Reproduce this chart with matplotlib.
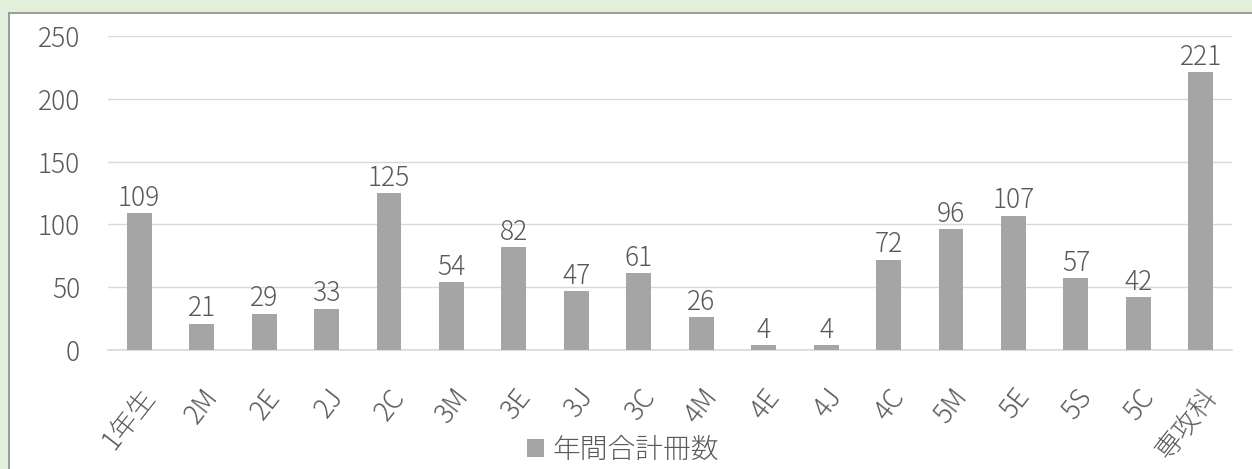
import matplotlib
matplotlib.use("Agg")
import matplotlib.pyplot as plt
from matplotlib.patches import Rectangle

categories = ["1年生", "2M", "2E", "2J", "2C", "3M", "3E", "3J", "3C", "4M",
              "4E", "4J", "4C", "5M", "5E", "5S", "5C", "専攻科"]
values = [109, 21, 29, 33, 125, 54, 82, 47, 61, 26, 4, 4, 72, 96, 107, 57, 42, 221]
series_name = "年間合計冊数"
yticks = [0, 50, 100, 150, 200, 250]

plt.rcParams['font.family'] = ['Noto Sans CJK JP', 'DejaVu Sans']
plt.rcParams['font.weight'] = 'light'
txt = '#595959'
bar_color = '#A5A5A5'
fs = 19

W, H = 1252, 469
fig = plt.figure(figsize=(W / 100, H / 100), dpi=100)
fig.patch.set_facecolor('#E2EFDA')
# white chart area with border
fig.patches.append(Rectangle((9 / W, -0.1), 1.1, (H - 13) / H + 0.1,
                             transform=fig.transFigure, facecolor='white',
                             edgecolor='#8C8C8C', linewidth=1.2, zorder=-10))

ax = fig.add_axes([108 / W, 1 - 350 / H, (1232 - 108) / W, (350 - 36) / H])
ax.set_zorder(5)
ax.set_facecolor('none')
x = list(range(len(categories)))
bars = ax.bar(x, values, width=0.4, color=bar_color, zorder=3, label=series_name)
ax.set_xlim(-0.5, len(categories) - 0.5)
ax.set_ylim(0, 250)
ax.set_yticks(yticks)
ax.set_yticklabels([str(v) for v in yticks], fontsize=fs, color=txt)
ax.set_xticks(x)
ax.set_xticklabels(categories, rotation=52, ha='right', rotation_mode='anchor',
                   fontsize=19.5, color=txt)
ax.tick_params(axis='both', length=0)
ax.tick_params(axis='y', pad=20)
ax.tick_params(axis='x', pad=24)
ax.grid(axis='y', color='#D9D9D9', linewidth=1, zorder=0)
for s in ['top', 'right', 'left']:
    ax.spines[s].set_visible(False)
ax.spines['bottom'].set_color('#D9D9D9')
ax.spines['bottom'].set_linewidth(1.2)

for xi, v in zip(x, values):
    ax.annotate(str(v), (xi, v), xytext=(0, 1), textcoords='offset points',
                ha='center', va='bottom', fontsize=fs, color=txt)

leg = fig.legend(handles=[bars], labels=[series_name], loc='center',
                 bbox_to_anchor=(623 / W, 1 - 450 / H), frameon=False,
                 fontsize=20, handlelength=0.6, handleheight=0.6,
                 handletextpad=0.3, labelcolor=txt)
leg.set_zorder(6)

fig.savefig('out.png', dpi=100, facecolor=fig.get_facecolor())
